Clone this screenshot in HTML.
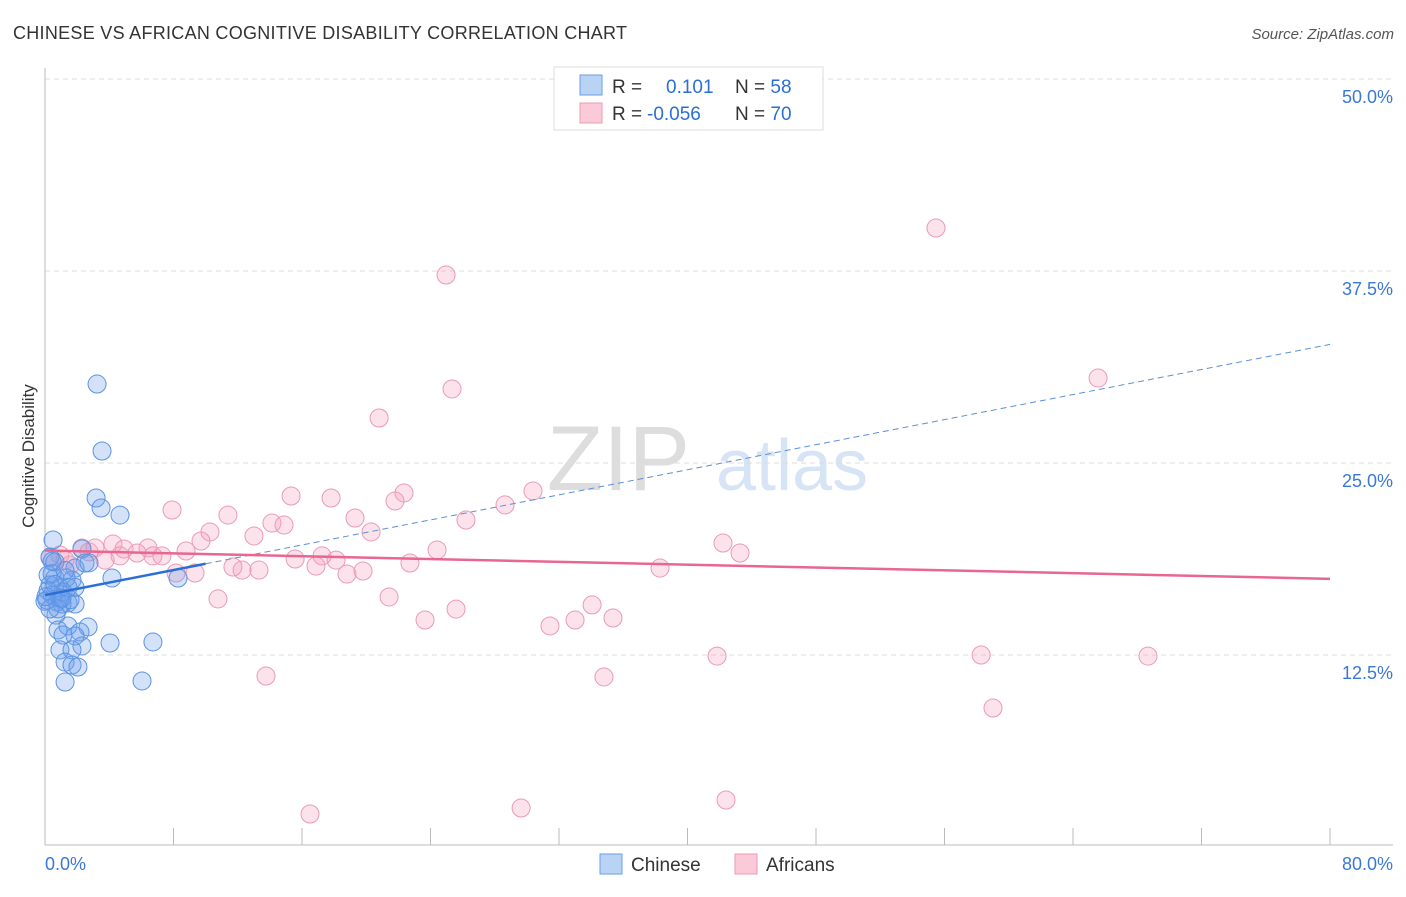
<!DOCTYPE html>
<html><head><meta charset="utf-8"><style>
body{margin:0;background:#fff;font-family:"Liberation Sans",sans-serif;}
svg text{font-family:"Liberation Sans",sans-serif;}
</style></head><body>
<svg id="c" width="1406" height="892">
<text x="13" y="39" font-size="18" fill="#333" textLength="614" lengthAdjust="spacing">CHINESE VS AFRICAN COGNITIVE DISABILITY CORRELATION CHART</text>
<text x="1394" y="39" font-size="15" fill="#555" font-style="italic" text-anchor="end">Source: ZipAtlas.com</text>
<text x="34" y="456" font-size="17" fill="#333" text-anchor="middle" transform="rotate(-90 34 456)">Cognitive Disability</text>
<text x="690" y="490" font-size="92" fill="#ddd" text-anchor="end" font-family="Liberation Serif">ZIP</text>
<text x="716" y="490" font-size="72" fill="#d6e4f5">atlas</text>
<g id="grid"></g><g id="pts"></g><g id="lines"></g>
<rect x="554" y="67" width="269" height="63" fill="#fff" stroke="#ddd"/>
<rect x="580" y="75" width="22" height="20" fill="#b9d3f5" stroke="#6a9ee6"/>
<rect x="580" y="103" width="22" height="20" fill="#fbcad8" stroke="#ee9ab5"/>
<text x="612" y="93" font-size="19" fill="#333">R = <tspan x="666" fill="#2a6fd6">0.101</tspan><tspan x="735" fill="#333">N = </tspan><tspan fill="#2a6fd6">58</tspan></text>
<text x="612" y="120" font-size="19" fill="#333">R = <tspan x="647" fill="#2a6fd6">-0.056</tspan><tspan x="735" fill="#333">N = </tspan><tspan fill="#2a6fd6">70</tspan></text>
<rect x="600" y="854" width="22" height="20" fill="#b9d3f5" stroke="#6a9ee6"/>
<text x="631" y="871" font-size="19" fill="#333">Chinese</text>
<rect x="735" y="854" width="22" height="20" fill="#fbcad8" stroke="#ee9ab5"/>
<text x="766" y="871" font-size="19" fill="#333">Africans</text>
<text x="45" y="870" font-size="18" fill="#3a78d8">0.0%</text>
<text x="1393" y="870" font-size="18" fill="#3a78d8" text-anchor="end">80.0%</text>
</svg>
<script>
const yTicks=[12.5,25,37.5,50];
const chineseX=[3.24,3.55,3.18,3.49,4.67,0.50,2.30,0.31,0.62,2.49,1.87,0.19,0.62,1.31,1.68,4.17,8.28,0.31,0.93,1.12,0.44,0.12,0.75,1.43,1.87,1.06,0.68,0.81,1.43,2.18,2.68,1.12,1.87,2.30,4.05,6.72,0.93,1.68,1.25,1.68,2.05,1.25,6.04,0.19,0.44,1.56,0.93,0.62,0,2.74,1.25,0.81,0.31,1.87,1.43,0.44,0.06,1.06];
const chineseY=[30.14,25.78,22.72,22.07,21.61,19.99,19.40,18.88,18.55,18.49,18.16,17.71,17.51,17.51,17.38,17.51,17.51,17.06,16.86,16.60,16.41,16.08,15.95,15.89,15.82,15.82,15.10,14.13,14.39,14.00,14.32,13.80,13.74,13.09,13.28,13.35,12.83,12.83,12.04,11.85,11.72,10.74,10.81,16.7,17.8,16.1,16.2,17.1,16.0,18.5,18.0,15.5,15.5,16.9,16.9,18.6,16.3,16.2];
const africanX=[24.97,25.34,20.80,55.47,65.56,15.32,17.81,22.35,30.38,21.79,28.64,7.91,11.39,19.30,26.21,14.13,14.88,20.30,10.27,13.01,9.71,4.23,42.21,6.41,43.27,8.78,24.41,2.30,4.92,5.73,6.72,7.28,2.74,3.74,0.31,0.93,15.57,17.25,18.12,22.72,11.70,12.27,13.32,38.29,8.16,9.34,16.87,18.80,19.80,10.77,21.42,34.06,25.59,23.66,35.36,31.44,33.00,41.84,58.28,68.67,13.76,34.80,59.02,42.40,29.64,16.50,1.25,3.11,1.56,4.67];
const africanY=[37.24,29.82,27.93,40.30,30.53,22.85,22.72,23.05,23.18,22.53,22.27,21.94,21.61,21.42,21.29,21.09,20.96,20.51,20.51,20.25,19.92,19.73,19.79,19.47,19.14,19.27,19.34,19.47,19.40,19.14,18.95,18.95,19.21,18.68,18.82,19.01,18.75,18.95,18.68,18.49,18.23,18.03,18.03,18.16,17.84,17.84,18.29,17.77,17.97,16.15,16.28,15.76,15.49,14.78,14.91,14.39,14.78,12.43,12.50,12.43,11.13,11.07,9.05,3.06,2.54,2.15,18.68,19.47,18.36,18.95];
const chineseTrend=[16.4,0.204];
const africanTrend=[19.3,-0.023];
const NS='http://www.w3.org/2000/svg';
const X=v=>45+v/80*1285, Y=v=>847-v/12.5*192;
function mk(t,a,p){const e=document.createElementNS(NS,t);for(const k in a)e.setAttribute(k,a[k]);p.appendChild(e);return e;}
const g=document.getElementById('grid');
yTicks.forEach(t=>{
 const l=mk('line',{x1:45,x2:1393,y1:Y(t),y2:Y(t),stroke:'#ddd','stroke-dasharray':'5,4'},g);
 
 
 const tx=mk('text',{x:1393,y:Y(t)+24,'font-size':18,fill:'#3a78d8','text-anchor':'end'},g);
 tx.textContent=t.toFixed(1)+'%';
 
 
});
const ax=mk('line',{x1:45,x2:45,y1:68,y2:845,stroke:'#bbb'},g);


const bx=mk('line',{x1:45,x2:1393,y1:845,y2:845,stroke:'#bbb'},g);


for(let i=0;i<=10;i++){
 const t=mk('line',{x1:X(i*8),x2:X(i*8),y1:828,y2:845,stroke:'#bbb'},g);
 
 
}
const P=document.getElementById('pts');
africanX.forEach((x,i)=>{
 const c=mk('circle',{cx:X(x),cy:Y(africanY[i]),r:9,fill:'rgba(244,160,190,0.3)',stroke:'#eb9ab5','stroke-width':1},P);
 
 
});
chineseX.forEach((x,i)=>{
 const c=mk('circle',{cx:X(x),cy:Y(chineseY[i]),r:9,fill:'rgba(110,160,235,0.3)',stroke:'#5b93e3','stroke-width':1},P);
 
 
});
const L=document.getElementById('lines');
const f=(tr,x)=>tr[0]+tr[1]*x;
let a=mk('line',{x1:X(0),y1:Y(f(chineseTrend,0)),x2:X(10),y2:Y(f(chineseTrend,10)),stroke:'#2a6fd6','stroke-width':2.5},L);


a=mk('line',{x1:X(10),y1:Y(f(chineseTrend,10)),x2:X(80),y2:Y(f(chineseTrend,80)),stroke:'#5b8fd9','stroke-width':1,'stroke-dasharray':'6,4'},L);


a=mk('line',{x1:X(0),y1:Y(f(africanTrend,0)),x2:X(80),y2:Y(f(africanTrend,80)),stroke:'#e8668f','stroke-width':2.5},L);


</script>
</body></html>
